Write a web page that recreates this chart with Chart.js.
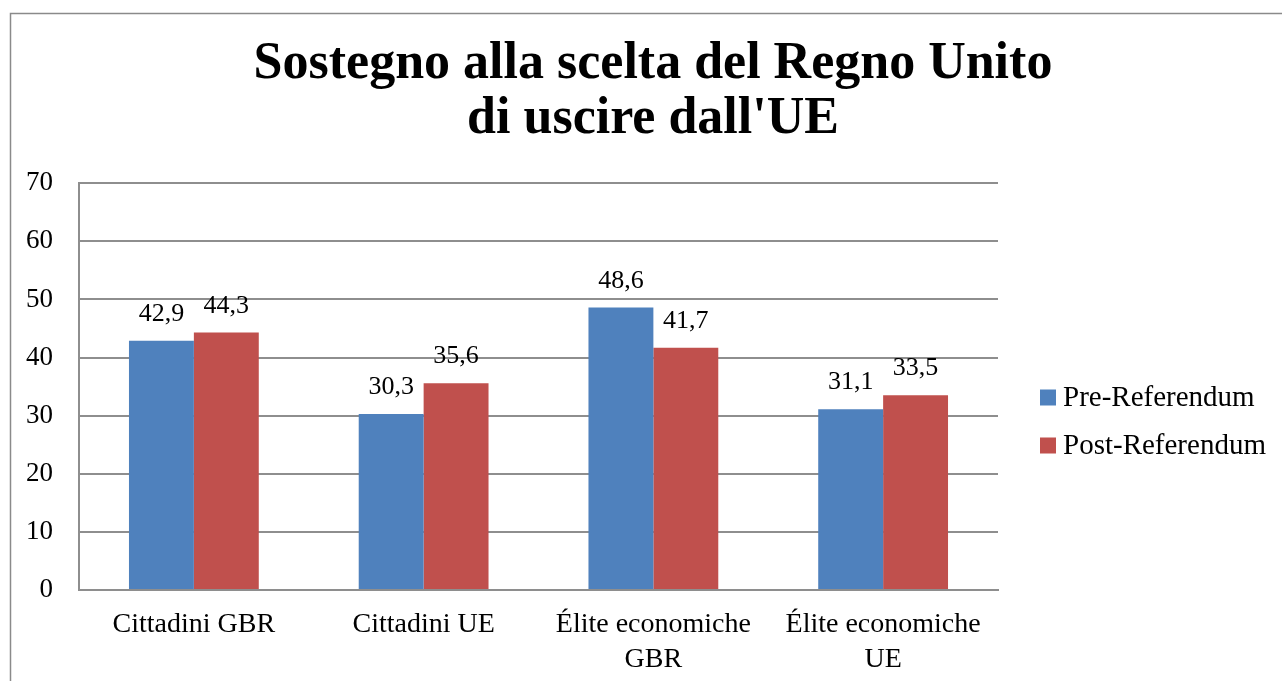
<!DOCTYPE html>
<html>
<head>
<meta charset="utf-8">
<script src="https://cdn.jsdelivr.net/npm/chart.js@4/dist/chart.umd.min.js"></script>
<style>
  html, body { margin: 0; padding: 0; background: #fff; }
  #wrap { position: absolute; left: 0; top: 0; width: 1282px; height: 681px; }
</style>
</head>
<body>
<div id="wrap"><canvas id="chart" width="1282" height="681"></canvas></div>
<script>
const categories = [["Cittadini GBR"], ["Cittadini UE"], ["Élite economiche", "GBR"], ["Élite economiche", "UE"]];
const seriesNames = ["Pre-Referendum", "Post-Referendum"];
const preValues = [42.9, 30.3, 48.6, 31.1];
const postValues = [44.3, 35.6, 41.7, 33.5];
const yTicks = [0, 10, 20, 30, 40, 50, 60, 70];

const SERIF = "'Liberation Serif', 'Times New Roman', serif";
const colors = ["#4F81BD", "#C0504D"];

// frame round the whole chart
const framePlugin = {
    id: "frame",
    beforeDraw(chart) {
        const ctx = chart.ctx;
        ctx.save();
        ctx.strokeStyle = "#8a8a8a";
        ctx.lineWidth = 1.5;
        ctx.strokeRect(10.5, 13.5, 1400, 1000);
        ctx.restore();
    }
};

// values above each bar, with comma decimals
const valueLabels = {
    id: "valueLabels",
    afterDatasetsDraw(chart) {
        const ctx = chart.ctx;
        ctx.save();
        ctx.font = "26px " + SERIF;
        ctx.fillStyle = "#000";
        ctx.textAlign = "center";
        ctx.textBaseline = "alphabetic";
        chart.data.datasets.forEach((ds, i) => {
            chart.getDatasetMeta(i).data.forEach((bar, j) => {
                ctx.fillText(ds.data[j].toFixed(1).replace(".", ","), bar.x, bar.y - 20);
            });
        });
        ctx.restore();
    }
};

// legend on the right, drawn by hand
const sideLegend = {
    id: "sideLegend",
    afterDraw(chart) {
        const ctx = chart.ctx;
        ctx.save();
        ctx.font = "29px " + SERIF;
        ctx.textBaseline = "middle";
        ctx.textAlign = "left";
        chart.data.datasets.forEach((ds, i) => {
            const cy = 397.5 + i * 48;
            ctx.fillStyle = ds.backgroundColor;
            ctx.fillRect(1040, cy - 8, 16, 16);
            ctx.fillStyle = "#000";
            ctx.fillText(ds.label, 1063, cy + 1);
        });
        ctx.restore();
    }
};

new Chart(document.getElementById("chart"), {
    type: "bar",
    data: {
        labels: categories,
        datasets: [
            { label: seriesNames[0], data: preValues, backgroundColor: colors[0], yAxisID: "y" },
            { label: seriesNames[1], data: postValues, backgroundColor: colors[1], yAxisID: "y" }
        ]
    },
    options: {
        responsive: false,
        animation: false,
        layout: { padding: { left: 24, right: 0, top: 0, bottom: 0 } },
        datasets: {
            bar: { categoryPercentage: 0.565, barPercentage: 1.0 }
        },
        plugins: {
            legend: { display: false },
            tooltip: { enabled: false },
            title: {
                display: true,
                text: ["Sostegno alla scelta del Regno Unito", "di uscire dall'UE"],
                color: "#000",
                font: { family: SERIF, size: 52, weight: "bold", lineHeight: 1.06 },
                padding: { top: 37, bottom: 36 }
            }
        },
        scales: {
            x: {
                grid: { display: false, drawTicks: false },
                border: { display: true, color: "#8e8e8e", width: 2 },
                ticks: {
                    color: "#000",
                    font: { family: SERIF, size: 28, lineHeight: 1.25 },
                    padding: 17,
                    maxRotation: 0,
                    autoSkip: false
                },
                afterFit(scale) { scale.height = 91; }
            },
            y: {
                min: 0,
                max: 70,
                afterBuildTicks(scale) { scale.ticks = yTicks.map(v => ({ value: v })); },
                grid: { color: "#8e8e8e", lineWidth: 2, drawTicks: false },
                border: { display: true, color: "#8e8e8e", width: 2 },
                ticks: {
                    color: "#000",
                    font: { family: SERIF, size: 27 },
                    padding: 26
                },
                afterFit(scale) { scale.width = 55; }
            },
            yRight: {
                position: "right",
                display: true,
                grid: { display: false, drawTicks: false },
                border: { display: false },
                ticks: { display: false },
                afterFit(scale) { scale.width = 284; }
            }
        }
    },
    plugins: [framePlugin, valueLabels, sideLegend]
});
</script>
</body>
</html>
